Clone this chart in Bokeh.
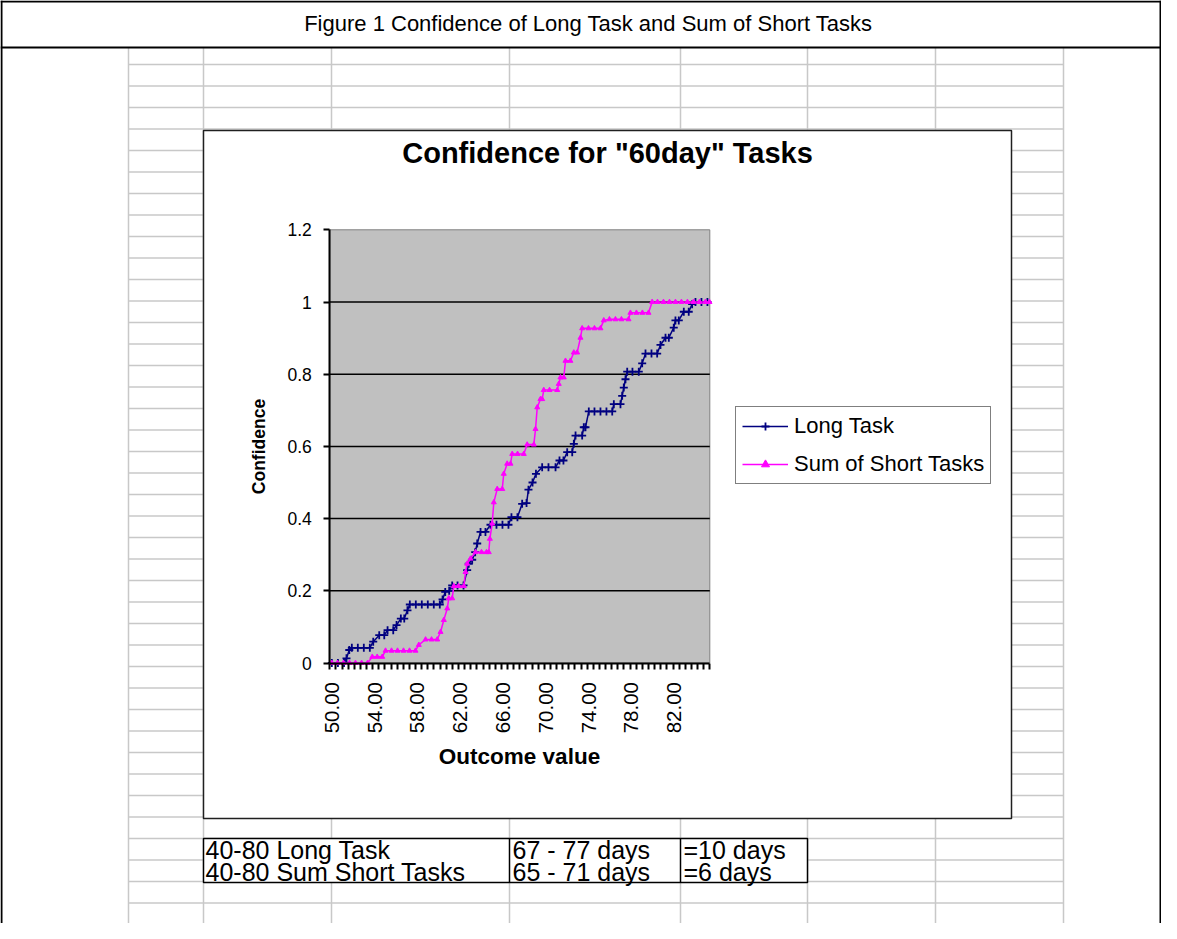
import math
from bokeh.plotting import figure
from bokeh.models import Range1d, LinearAxis, FixedTicker, Legend, LegendItem
from bokeh.core.properties import value
from bokeh.embed import file_html
from bokeh.resources import INLINE

# ---------------- data ----------------
series_names = ["Long Task", "Sum of Short Tasks"]

long_x = [50.00, 50.57, 51.14, 51.37, 51.63, 51.87, 52.43, 52.99, 53.55, 53.87,
          54.43, 54.90, 55.21, 55.74, 56.05, 56.45, 56.77, 57.07, 57.29, 57.85,
          58.41, 58.97, 59.53, 60.09, 60.35, 60.60, 60.97, 61.25, 61.75, 62.31,
          62.65, 62.80, 63.12, 63.40, 63.59, 63.90, 64.36, 64.83, 65.39, 65.95,
          66.51, 66.79, 67.35, 67.79, 68.20, 68.38, 68.76, 69.08, 69.66, 70.25,
          70.91, 71.28, 71.65, 72.00, 72.47, 72.62, 72.78, 73.40, 73.55, 73.71,
          74.02, 74.55, 75.11, 75.67, 76.21, 76.36, 76.98, 77.14, 77.29, 77.45,
          77.61, 78.10, 78.69, 79.01, 79.32, 79.88, 80.41, 80.72, 81.19, 81.50,
          81.96, 82.12, 82.43, 82.90, 83.36, 83.68, 83.99, 84.55, 85.11]
long_y = [0, 0, 0, 0.013, 0.036, 0.042, 0.042, 0.042, 0.042, 0.059,
          0.077, 0.077, 0.091, 0.091, 0.105, 0.123, 0.123, 0.146, 0.162, 0.162,
          0.162, 0.162, 0.162, 0.162, 0.176, 0.197, 0.200, 0.215, 0.215, 0.215,
          0.257, 0.275, 0.286, 0.307, 0.331, 0.363, 0.363, 0.383, 0.383, 0.383,
          0.383, 0.404, 0.404, 0.441, 0.443, 0.480, 0.500, 0.524, 0.542, 0.542,
          0.542, 0.561, 0.561, 0.584, 0.584, 0.607, 0.630, 0.630, 0.653, 0.653,
          0.697, 0.697, 0.697, 0.697, 0.697, 0.717, 0.717, 0.740, 0.763, 0.786,
          0.807, 0.807, 0.807, 0.830, 0.857, 0.857, 0.857, 0.881, 0.901, 0.901,
          0.929, 0.949, 0.949, 0.973, 0.973, 0.994, 1.0, 1.0, 1.0]

short_x = [50.00, 50.53, 51.09, 51.65, 52.21, 52.78, 53.34, 53.78, 54.24, 54.71,
           55.02, 55.58, 56.14, 56.70, 57.26, 57.82, 58.13, 58.76, 59.32, 59.85,
           60.16, 60.47, 60.79, 60.93, 61.25, 61.40, 61.84, 62.34, 62.50, 62.65,
           62.96, 63.43, 63.99, 64.46, 64.67, 64.77, 64.99, 65.14, 65.46, 65.93,
           66.07, 66.39, 66.70, 66.86, 67.36, 67.94, 68.26, 68.88, 69.04, 69.20,
           69.50, 69.66, 69.81, 70.35, 71.07, 71.21, 71.37, 71.68, 71.84, 72.30,
           72.62, 72.93, 73.24, 73.40, 73.99, 74.55, 75.11, 75.42, 75.95, 76.51,
           77.07, 77.73, 77.91, 78.47, 79.03, 79.60, 79.94, 80.44, 81.00, 81.56,
           82.12, 82.68, 83.24, 83.80, 84.36, 84.92, 85.30]
short_y = [0, 0, 0, 0, 0, 0, 0, 0.017, 0.017, 0.017,
           0.034, 0.034, 0.034, 0.034, 0.034, 0.034, 0.050, 0.065, 0.065, 0.065,
           0.086, 0.119, 0.151, 0.179, 0.179, 0.213, 0.213, 0.213, 0.252, 0.275,
           0.289, 0.307, 0.307, 0.307, 0.307, 0.344, 0.386, 0.445, 0.482, 0.482,
           0.524, 0.552, 0.552, 0.579, 0.579, 0.579, 0.605, 0.605, 0.648, 0.708,
           0.731, 0.731, 0.756, 0.756, 0.756, 0.773, 0.791, 0.791, 0.837, 0.837,
           0.860, 0.860, 0.901, 0.927, 0.927, 0.927, 0.927, 0.949, 0.952, 0.952,
           0.952, 0.952, 0.970, 0.970, 0.970, 0.970, 1.0, 1.0, 1.0, 1.0,
           1.0, 1.0, 1.0, 1.0, 1.0, 1.0, 1.0]

x_tick_values = [50, 54, 58, 62, 66, 70, 74, 78, 82]
x_tick_labels = ["50.00", "54.00", "58.00", "62.00", "66.00", "70.00", "74.00", "78.00", "82.00"]
y_tick_values = [0, 0.2, 0.4, 0.6, 0.8, 1.0, 1.2]
y_tick_labels = ["0", "0.2", "0.4", "0.6", "0.8", "1", "1.2"]

page_title = "Figure 1 Confidence of Long Task and Sum of Short Tasks"
chart_title = 'Confidence for "60day" Tasks'
x_title = "Outcome value"
y_title = "Confidence"
table_rows = [["40-80 Long Task", "67 - 77 days", "=10 days"],
              ["40-80 Sum Short Tasks", "65 - 71 days", "=6 days"]]

# ---------------- layout (pixel positions in the reference) ----------------
W, H = 1161, 923
PL, PR, PT, PB = 329.3, 709.3, 229.3, 662.5      # plot area edges (px)
XMIN, XMAX = 49.81, 85.33
YMIN, YMAX = 0.0, 1.2
sx = (PR - PL) / (XMAX - XMIN)
sy = (PB - PT) / (YMAX - YMIN)
x_start = XMIN - PL / sx
x_end = XMAX + (W - PR) / sx
y_start = YMIN - (H - PB) / sy
y_end = YMAX + PT / sy

FONT = value("Liberation Sans")

p = figure(width=W, height=H, x_range=Range1d(x_start, x_end), y_range=Range1d(y_start, y_end),
           x_axis_location=None, y_axis_location=None, toolbar_location=None,
           output_backend="svg", min_border=0, outline_line_color=None,
           background_fill_color="white", border_fill_color="white")
p.xgrid.visible = False
p.ygrid.visible = False
p.extra_x_ranges["px"] = Range1d(0, W)
p.extra_y_ranges["px"] = Range1d(H, 0)

PX = dict(x_range_name="px", y_range_name="px")

# spreadsheet grid
col_x = [128, 203, 331, 509, 680, 807, 935, 1063]
row_y = [64 + 21.5 * k for k in range(41)]
p.segment(x0=col_x, y0=[47] * len(col_x), x1=col_x, y1=[H] * len(col_x),
          line_color="#c8c8c8", line_width=1.5, **PX)
p.segment(x0=[128] * len(row_y), y0=row_y, x1=[1063] * len(row_y), y1=row_y,
          line_color="#c8c8c8", line_width=1.5, **PX)

# outer frame and title bar
p.segment(x0=[1, W - 1, 0, 0], y0=[0, 0, 1, 47],
          x1=[1, W - 1, W, W], y1=[H, H, 1, 47],
          line_color="black", line_width=2, **PX)
p.text(x=[588], y=[23], text=[page_title], text_font=FONT, text_font_size="22px",
       text_align="center", text_baseline="middle", text_color="black", **PX)

# chart object box
p.quad(left=[203], right=[1011], top=[130], bottom=[818], fill_color="white",
       line_color="#202020", line_width=1.5, **PX)
p.text(x=[607], y=[152], text=[chart_title], text_font=FONT, text_font_size="29px",
       text_font_style="bold", text_align="center", text_baseline="middle", **PX)

# table below the chart
p.quad(left=[203], right=[807], top=[838], bottom=[882], fill_color="white",
       line_color="black", line_width=1.5, **PX)
p.segment(x0=[509, 680], y0=[838, 838], x1=[509, 680], y1=[882, 882],
          line_color="black", line_width=1.5, **PX)
cell_x = [205, 512, 683]
row_c = [849, 871]
tx, ty, tt = [], [], []
for r, row in enumerate(table_rows):
    for c, txt in enumerate(row):
        tx.append(cell_x[c]); ty.append(row_c[r]); tt.append(txt)
p.text(x=tx, y=ty, text=tt, text_font=FONT, text_font_size="25px",
       text_align="left", text_baseline="middle", **PX)

# plot area
p.quad(left=[XMIN], right=[XMAX], bottom=[YMIN], top=[YMAX], fill_color="#c0c0c0",
       line_color="#808080", line_width=1)
gy = y_tick_values[1:-1]
p.segment(x0=[XMIN] * len(gy), y0=gy, x1=[XMAX] * len(gy), y1=gy,
          line_color="black", line_width=1.5)

# data
l1 = p.line(long_x, long_y, line_color="#000080", line_width=1.5)
m1 = p.scatter(long_x, long_y, marker="cross", size=8, line_color="#000080", line_width=1.8)
l2 = p.line(short_x, short_y, line_color="#ff00ff", line_width=1.5)
m2 = p.scatter(short_x, short_y, marker="triangle", size=5, line_color="#ff00ff",
               fill_color="#ff00ff")

# axes
minor = [XMIN + k * (XMAX - XMIN) / 62 for k in range(63)]
xaxis = LinearAxis(fixed_location=YMIN, bounds=(XMIN, XMAX),
                   ticker=FixedTicker(ticks=x_tick_values, minor_ticks=minor),
                   major_label_overrides=dict(zip(x_tick_values, x_tick_labels)),
                   major_label_orientation=math.pi / 2,
                   major_tick_line_color=None, major_tick_in=0, major_tick_out=6,
                   minor_tick_in=0, minor_tick_out=6, minor_tick_line_width=2,
                   minor_tick_line_color="black",
                   axis_line_width=2, axis_line_color="black",
                   major_label_standoff=13,
                   major_label_text_font="Liberation Sans", major_label_text_font_size="20.5px",
                   major_label_text_color="black",
                   axis_label=x_title, axis_label_text_font="Liberation Sans",
                   axis_label_text_font_size="22.5px", axis_label_text_font_style="bold",
                   axis_label_text_color="black", axis_label_standoff=7)
yaxis = LinearAxis(fixed_location=XMIN, bounds=(YMIN, YMAX),
                   ticker=FixedTicker(ticks=y_tick_values, minor_ticks=[]),
                   major_label_overrides=dict(zip(y_tick_values, y_tick_labels)),
                   major_tick_in=0, major_tick_out=6, major_tick_line_width=2,
                   minor_tick_out=0, minor_tick_in=0,
                   axis_line_width=2, axis_line_color="black",
                   major_label_standoff=12,
                   major_label_text_font="Liberation Sans", major_label_text_font_size="17.5px",
                   major_label_text_color="black",
                   axis_label=y_title, axis_label_text_font="Liberation Sans",
                   axis_label_text_font_size="17.5px", axis_label_text_font_style="bold",
                   axis_label_text_color="black", axis_label_standoff=15)
p.add_layout(xaxis, "below")
p.add_layout(yaxis, "left")

legend = Legend(items=[LegendItem(label=series_names[0], renderers=[l1, m1]),
                       LegendItem(label=series_names[1], renderers=[l2, m2])],
                location=(735, H - 484),
                border_line_color="black", border_line_width=1.5,
                background_fill_color="white", background_fill_alpha=1.0,
                label_text_font="Liberation Sans", label_text_font_size="22px",
                label_text_color="black",
                glyph_width=46, glyph_height=20, label_height=20, spacing=12,
                padding=6, margin=0, label_standoff=6)
p.add_layout(legend)

open("out.html", "w").write(file_html(p, INLINE))
